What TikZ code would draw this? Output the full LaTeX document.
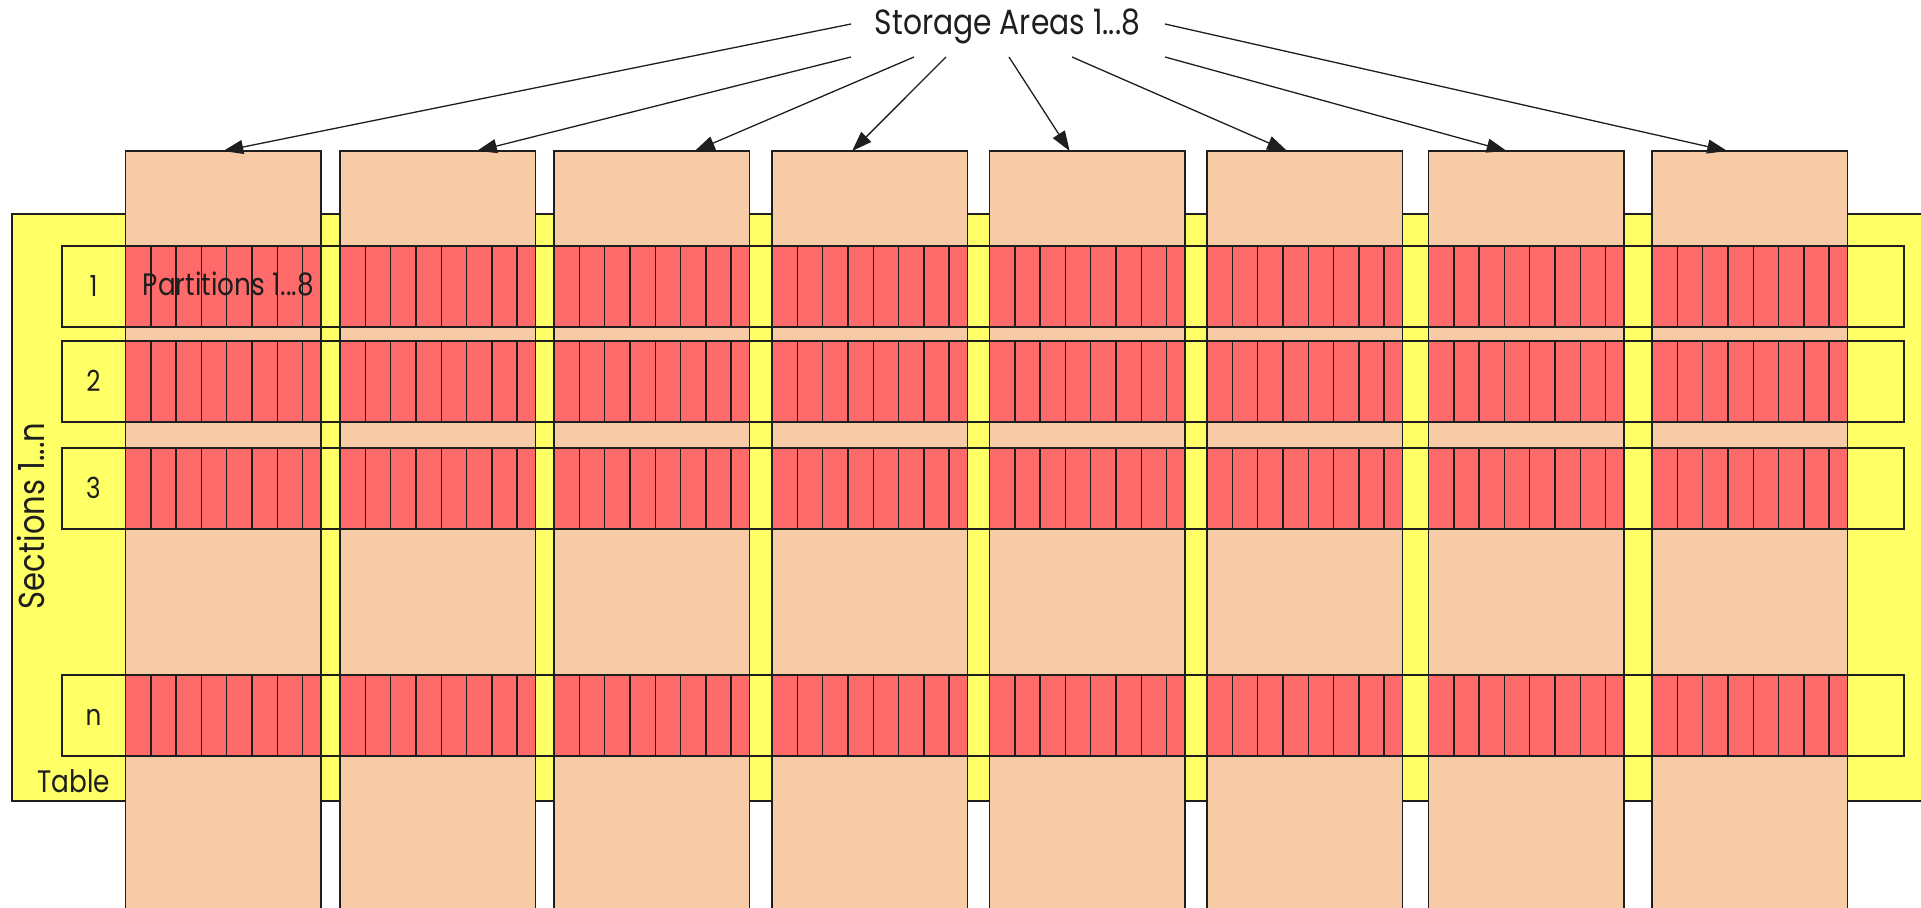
\documentclass[tikz,border=0pt]{standalone}
\usepackage{fontspec}
\setmainfont{Poppins}[FakeStretch=0.85]
\usetikzlibrary{arrows.meta,calc}
\definecolor{tblyellow}{HTML}{FFFF66}
\definecolor{storpeach}{HTML}{F8CBA7}
\definecolor{partred}{HTML}{FF6B6B}
\definecolor{ink}{HTML}{1E1E1E}
\begin{document}
\begin{tikzpicture}[x=1pt,y=-1pt,
  edge/.style={draw=ink,line width=1.4pt},
  tablebox/.style={edge,fill=tblyellow,inner sep=0pt,outer sep=0pt,anchor=north west},
  areabox/.style={edge,fill=storpeach,inner sep=0pt,outer sep=0pt,anchor=north west,minimum width=195.5pt,minimum height=770pt},
  partbox/.style={edge,fill=partred},
  partline/.style={draw=ink,line width=1.4pt},
  rowbox/.style={edge,inner sep=0pt,outer sep=0pt,anchor=north west,minimum width=1842pt,minimum height=81pt},
  txt/.style={text=ink,inner sep=0pt},
  conn/.style={draw=ink,line width=1.3pt,-{Triangle[length=20pt,width=14pt]}}
]
\useasboundingbox (0,0) rectangle (1921,907);
% table
\node[tablebox,minimum width=1930pt,minimum height=587pt] (tbl) at (12,214) {};
% storage areas
\foreach \i/\l in {1/125.5,2/340,3/554,4/772,5/989.5,6/1207,7/1428.5,8/1652}{
  \node[areabox] (a\i) at (\l,151) {};
}
% partitions in every section row
\foreach \t in {246,341,448,675}{
  \foreach \l in {125.5,340,554,772,989.5,1207,1428.5,1652}{
    \path[partbox] (\l,\t) rectangle ++(195.5,81);
    \foreach \k in {1,...,7}{
      \draw[partline] ({\l+\k*25.3},\t) -- ++(0,81);
    }
  }
}
% section rows
\foreach \n/\t in {1/246,2/341,3/448,n/675}{
  \node[rowbox] (r\n) at (62,\t) {};
  \node[txt,anchor=base,font=\fontsize{29}{31}\selectfont] (num\n) at ($(r\n.north west)+(31.5,50)$) {\n};
}
% texts
\node[txt,anchor=base,font=\fontsize{31}{33}\selectfont] (parts) at ($(r1.north west)+(166.5,49)$) {Partitions 1...8};
\node[txt,anchor=base west,font=\fontsize{31}{33}\selectfont] (tbllbl) at (37,792) {Table};
\node[txt,rotate=90,font=\fontsize{36}{38}\selectfont] (sect) at (30.5,516) {Sections 1...n};
\node[txt,anchor=base,font=\fontsize{35}{37}\selectfont] (sa) at (1007.5,35) {Storage Areas 1...8};
% connectors
\draw[conn] ($(sa.base)+(-156.5,-11)$) -- ($(a1.north west)!0.50!(a1.north east)$);
\draw[conn] ($(sa.base)+(-156.5,22)$) -- ($(a2.north west)!0.70!(a2.north east)$);
\draw[conn] ($(sa.base)+(-93.5,22)$) -- ($(a3.north west)!0.72!(a3.north east)$);
\draw[conn] ($(sa.base)+(-61.5,22)$) -- ($(a4.north west)!0.41!(a4.north east)$);
\draw[conn] ($(sa.base)+(1.5,22)$) -- ($(a5.north west)!0.41!(a5.north east)$);
\draw[conn] ($(sa.base)+(64.5,22)$) -- ($(a6.north west)!0.41!(a6.north east)$);
\draw[conn] ($(sa.base)+(157.5,22)$) -- ($(a7.north west)!0.40!(a7.north east)$);
\draw[conn] ($(sa.base)+(157.5,-11)$) -- ($(a8.north west)!0.385!(a8.north east)$);
\end{tikzpicture}
\end{document}
